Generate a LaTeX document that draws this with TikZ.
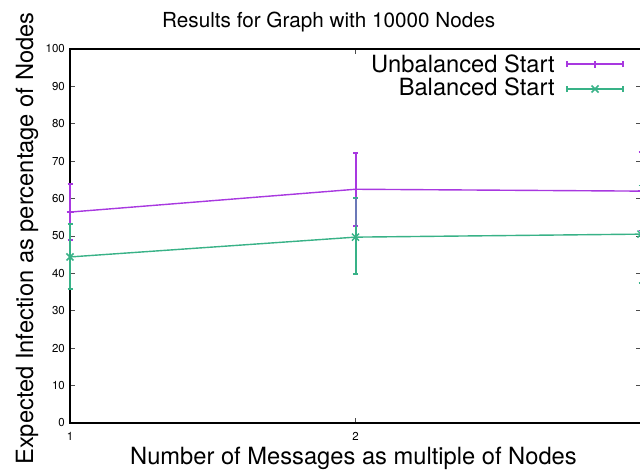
\documentclass[tikz,border=0pt]{standalone}
\usepackage{fontspec}
\setmainfont{TeX Gyre Heros}
\begin{document}
\begin{tikzpicture}[x=1pt,y=1pt,
  border/.style={black, line width=1.3pt},
  tickmark/.style={black!70, line width=1pt},
  ticklab/.style={font=\fontsize{11.5}{12}\selectfont, inner sep=0pt},
  biglab/.style={font=\fontsize{23.7}{24}\selectfont, inner sep=0pt},
  ser1/.style={color=purp, line width=1.4pt},
  ser2/.style={color=teal2, line width=1.4pt},
  bar1/.style={color=purp, line width=1.5pt},
  bar2/.style={color=teal2, line width=1.5pt},
  vbar1/.style={color=purp, line width=2pt},
  vbar2/.style={color=teal2, line width=2pt}]
\definecolor{purp}{rgb}{0.66,0.22,0.88}
\definecolor{teal2}{rgb}{0.22,0.70,0.53}
\definecolor{mixc}{rgb}{0.42,0.47,0.72}
\useasboundingbox (0,-472) rectangle (640,0);
\fill[white] (0,-472) rectangle (640,0);
% title and axis labels
\node[anchor=base west, inner sep=0pt, font=\fontsize{20.7}{21}\selectfont] (title) at (162,-27) {Results for Graph with 10000 Nodes};
\node[biglab, anchor=base west] (xlab) at (130,-464) {Number of Messages as multiple of Nodes};
\node[biglab, anchor=base west, rotate=90] (ylab) at (33,-465) {Expected Infection as percentage of Nodes};
\begin{scope}[x=285.5pt, y=3.74pt, shift={(-215.5pt,-423pt)}]
  % ticks
  \foreach \v in {0,10,...,100} {
    \draw[tickmark] (1,\v) -- ++(5pt,0);
    \draw[tickmark] (3,\v) -- ++(-5pt,0);
    \node[ticklab, anchor=east] (yt\v) at ([xshift=-5pt]1,\v) {\v};
  }
  \foreach \u in {1,2,3} {
    \draw[tickmark] (\u,0) -- ++(0,5pt);
    \draw[tickmark] (\u,100) -- ++(0,-5pt);
  }
  \node[ticklab, anchor=north] (xt1) at ([yshift=-9pt]1,0) {1};
  \node[ticklab, anchor=north] (xt2) at ([yshift=-9pt]2,0) {2};
  \draw[border] (1,0) rectangle (3,100);
  % error bars series 1 (purple)
  \foreach \xx/\lo/\hi in {1/48.9/63.9, 2/52.7/72.2, 3/51.5/72.5} {
    \draw[vbar1] (\xx,\lo) -- (\xx,\hi);
    \draw[bar1] ([xshift=-2.5pt]\xx,\lo) -- ([xshift=2.5pt]\xx,\lo);
    \draw[bar1] ([xshift=-2.5pt]\xx,\hi) -- ([xshift=2.5pt]\xx,\hi);
  }
  % error bars series 2 (green)
  \foreach \xx/\lo/\hi in {1/35.8/53.2, 2/39.8/60.2, 3/37.5/63.5} {
    \draw[vbar2] (\xx,\lo) -- (\xx,\hi);
    \draw[bar2] ([xshift=-2.5pt]\xx,\lo) -- ([xshift=2.5pt]\xx,\lo);
    \draw[bar2] ([xshift=-2.5pt]\xx,\hi) -- ([xshift=2.5pt]\xx,\hi);
  }
  \draw[color=mixc, line width=2pt] (2,52.7) -- (2,60.2);
  % lines
  \draw[ser1] (1,56.4) -- (2,62.5) -- (3,62.0);
  \draw[ser2] (1,44.4) -- (2,49.7) -- (3,50.5);
  % markers
  \foreach \xx/\yy in {1/56.4, 2/62.5, 3/62.0}
    \draw[bar1] ([xshift=-3.5pt]\xx,\yy) -- ([xshift=3.5pt]\xx,\yy)
      ([yshift=-3.5pt]\xx,\yy) -- ([yshift=3.5pt]\xx,\yy);
  \foreach \xx/\yy in {1/44.4, 2/49.7, 3/50.5}
    \draw[bar2] ([shift={(-3.5pt,-3.5pt)}]\xx,\yy) -- ([shift={(3.5pt,3.5pt)}]\xx,\yy)
      ([shift={(-3.5pt,3.5pt)}]\xx,\yy) -- ([shift={(3.5pt,-3.5pt)}]\xx,\yy);
\end{scope}
% legend
\node[biglab, anchor=base east] (leg1) at (555,-72) {Unbalanced Start};
\node[biglab, anchor=base east] (leg2) at (555,-95) {Balanced Start};
\coordinate (l1a) at (567,-64); \coordinate (l1b) at (623,-64); \coordinate (l1m) at (595,-64);
\coordinate (l2a) at (567,-89); \coordinate (l2b) at (623,-89); \coordinate (l2m) at (595,-89);
\draw[ser1] (l1a) -- (l1b);
\draw[bar1] ([yshift=-3pt]l1a) -- ([yshift=3pt]l1a);
\draw[bar1] ([yshift=-3pt]l1b) -- ([yshift=3pt]l1b);
\draw[bar1] ([xshift=-3.5pt]l1m) -- ([xshift=3.5pt]l1m) ([yshift=-3.5pt]l1m) -- ([yshift=3.5pt]l1m);
\draw[ser2] (l2a) -- (l2b);
\draw[bar2] ([yshift=-3pt]l2a) -- ([yshift=3pt]l2a);
\draw[bar2] ([yshift=-3pt]l2b) -- ([yshift=3pt]l2b);
\draw[bar2] ([shift={(-3.5pt,-3.5pt)}]l2m) -- ([shift={(3.5pt,3.5pt)}]l2m) ([shift={(-3.5pt,3.5pt)}]l2m) -- ([shift={(3.5pt,-3.5pt)}]l2m);
\end{tikzpicture}
\end{document}
